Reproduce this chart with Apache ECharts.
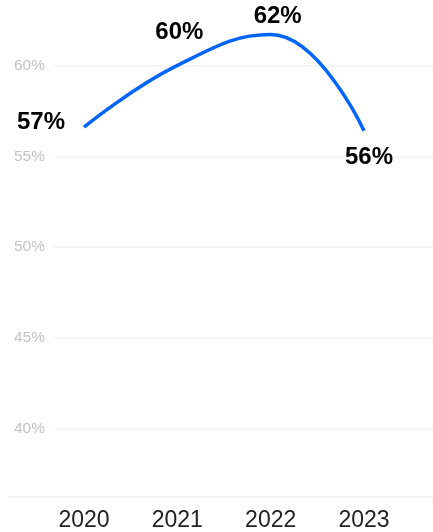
<!DOCTYPE html>
<html>
<head>
<meta charset="utf-8">
<script src="https://cdn.jsdelivr.net/npm/echarts@6/dist/echarts.min.js"></script>
<style>
  html, body { margin: 0; padding: 0; background: #fff; }
  #chart { width: 433px; height: 532px; }
</style>
</head>
<body>
<div id="chart"></div>
<script>
  // data
  var years = ['2020', '2021', '2022', '2023']
  var rates = [56.6, 60.0, 61.7, 56.4]
  var yTicks = [40, 45, 50, 55, 60]

  // where each value label sits
  var labelPos = [
    { position: 'left', distance: 19, offset: [0, -5] },
    { position: 'top', distance: 22, offset: [2, 1] },
    { position: 'top', distance: 7, offset: [7, 1] },
    { position: 'bottom', distance: 14, offset: [5, 1] }
  ]

  var yMin = 36.25, yMax = 62.5
  var font = '"Liberation Sans", Arial, sans-serif'

  var myChart = echarts.init(document.getElementById('chart'))
  myChart.setOption({
    animation: false,
    textStyle: { fontFamily: font },
    grid: [
      { left: 54, right: 0, top: 20, bottom: 35 },   // y labels + split lines
      { left: 84, right: 69, top: 20, bottom: 35 },  // the line itself
      { left: 9, right: 0, top: 20, bottom: 35 }     // bottom axis line
    ],
    xAxis: [
      { gridIndex: 0, type: 'category', data: years, show: false },
      {
        gridIndex: 1, type: 'category', data: years, boundaryGap: false,
        axisLine: { show: false }, axisTick: { show: false },
        axisLabel: { color: '#222', fontSize: 23, margin: 12, fontFamily: font }
      },
      {
        gridIndex: 2, type: 'category', data: years,
        axisLine: { lineStyle: { color: '#f0f0f0', width: 1.5 } },
        axisTick: { show: false }, axisLabel: { show: false }
      }
    ],
    yAxis: [
      {
        gridIndex: 0, type: 'value', min: yMin, max: yMax,
        axisLine: { show: false }, axisTick: { show: false, customValues: yTicks },
        axisLabel: {
          customValues: yTicks, color: '#c4c4c4', fontSize: 15.5, margin: 9,
          formatter: function (v) { return v + '%' }
        },
        splitLine: { show: true, lineStyle: { color: '#f2f2f2', width: 1.5 } }
      },
      { gridIndex: 1, type: 'value', min: yMin, max: yMax, show: false },
      { gridIndex: 2, type: 'value', min: yMin, max: yMax, show: false }
    ],
    series: [{
      type: 'line',
      xAxisIndex: 1,
      yAxisIndex: 1,
      smooth: 0.45,
      symbol: 'circle',
      symbolSize: 0,
      clip: false,
      lineStyle: { color: '#0064ff', width: 3.5 },
      itemStyle: { color: '#0064ff' },
      label: {
        show: true,
        color: '#000',
        fontSize: 24,
        fontWeight: 'bold',
        formatter: function (p) { return Math.round(p.value) + '%' }
      },
      data: rates.map(function (v, i) {
        return { value: v, label: labelPos[i] }
      })
    }]
  })
</script>
</body>
</html>
